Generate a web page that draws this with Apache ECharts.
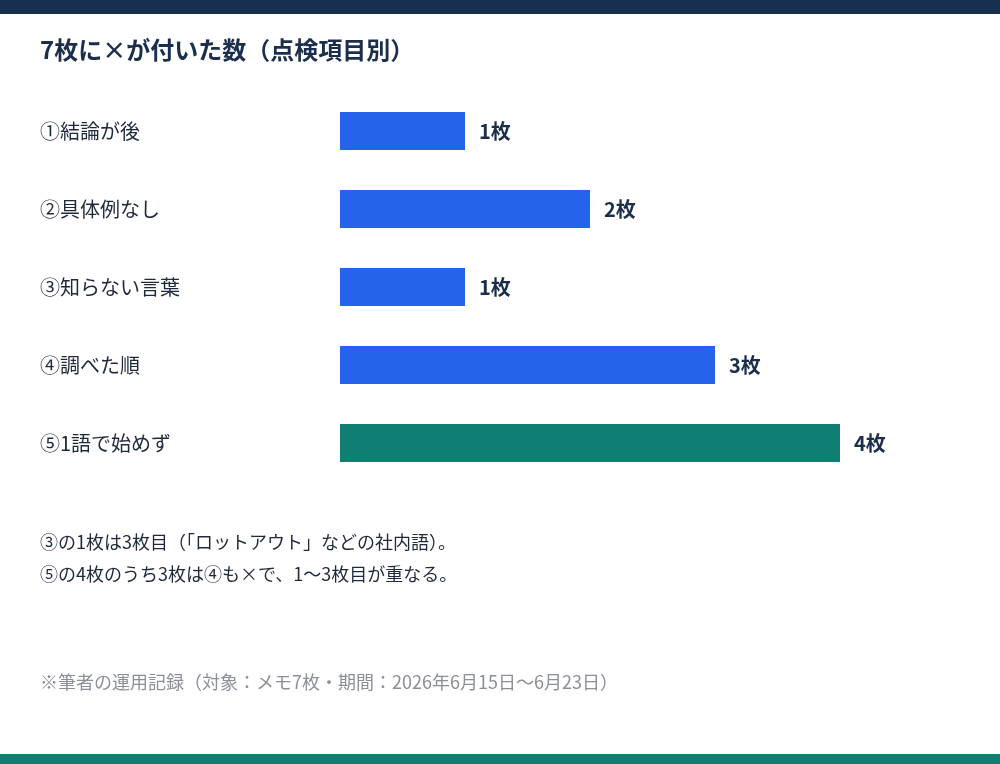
<!DOCTYPE html>
<html><head><meta charset="utf-8">
<script src="https://cdn.jsdelivr.net/npm/echarts@6/dist/echarts.min.js"></script>
<style>html,body{margin:0;padding:0;background:#fff}#c{width:1000px;height:764px}</style>
</head><body><div id="c"></div>
<script>
const categories = ['①結論が後','②具体例なし','③知らない言葉','④調べた順','⑤1語で始めず'];
const values = [1,2,1,3,4];
const unit = '枚';
const highlightIndex = 4;
const title = '7枚に×が付いた数（点検項目別）';
const notes = ['③の1枚は3枚目（「ロットアウト」などの社内語）。','⑤の4枚のうち3枚は④も×で、1〜3枚目が重なる。'];
const footnote = '※筆者の運用記録（対象：メモ7枚・期間：2026年6月15日〜6月23日）';

const F = '"Noto Sans CJK JP","Noto Sans",sans-serif';
const chart = echarts.init(document.getElementById('c'));
chart.setOption({
  animation:false,
  grid:{left:340,top:92,width:500,height:390,containLabel:false},
  xAxis:{type:'value',min:0,max:4,show:false},
  yAxis:{type:'category',data:categories,inverse:true,
    axisLine:{show:false},axisTick:{show:false},
    axisLabel:{align:'left',margin:300,fontSize:20,color:'#1e293b',fontFamily:F}},
  series:[{type:'bar',barWidth:38,
    data:values.map((v,i)=>({value:v,itemStyle:{color:i===highlightIndex?'#0f7f72':'#2563eb'}})),
    label:{show:true,position:'right',distance:14,fontSize:20,fontWeight:'bold',color:'#1b2e4b',fontFamily:F,
      formatter:p=>p.value+unit}}],
  graphic:[
    {type:'rect',shape:{x:0,y:0,width:1000,height:14},style:{fill:'#17304f'}},
    {type:'rect',shape:{x:0,y:754,width:1000,height:10},style:{fill:'#0f7f72'}},
    {type:'text',left:40,top:38,style:{text:title,fontSize:24,fontWeight:'bold',fill:'#1b2e4b',fontFamily:F}},
    {type:'text',left:40,top:533,style:{text:notes[0],fontSize:18,fill:'#1e293b',fontFamily:F}},
    {type:'text',left:40,top:565,style:{text:notes[1],fontSize:18,fill:'#1e293b',fontFamily:F}},
    {type:'text',left:40,top:673,style:{text:footnote,fontSize:18,fill:'#8a8f98',fontFamily:F}}
  ]
});
</script></body></html>
